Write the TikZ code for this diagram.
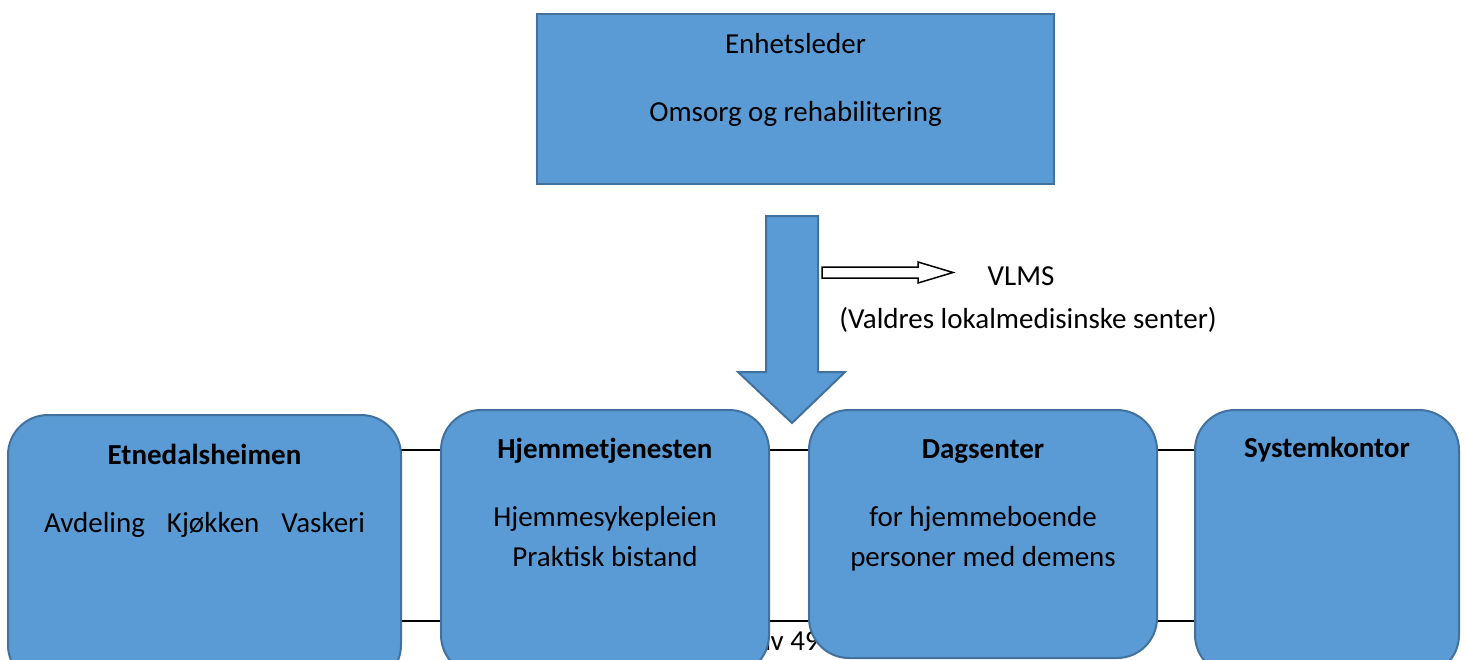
\documentclass[tikz,border=0pt]{standalone}
\usepackage{fontspec}
\setmainfont{Carlito}
\usetikzlibrary{calc,positioning}
\definecolor{boxfill}{HTML}{5B9BD5}
\definecolor{boxline}{HTML}{41719C}
\pgfdeclarelayer{background}
\pgfsetlayers{background,main}
\tikzset{
  unit/.style={draw=boxline, fill=boxfill, line width=2pt, rounded corners=40pt, inner sep=0pt},
  chief/.style={draw=boxline, fill=boxfill, line width=2pt, inner sep=0pt},
  head/.style={font=\fontsize{29}{35}\selectfont\bfseries, anchor=base, inner sep=0pt},
  sub/.style={anchor=base, inner sep=0pt},
  link/.style={line width=2pt},
}

\begin{document}
\begin{tikzpicture}[x=1pt, y=-1pt, font=\fontsize{29}{35}\selectfont]
  \useasboundingbox (0,0) rectangle (1467,659);
  % Leader box on top
  \node[chief, minimum width=517pt, minimum height=170pt] (leder) at (795.5,99) {};
  \node[sub] (ledA) at ($(leder.north)+(0,40)$) {Enhetsleder};
  \node[sub] (ledB) at ($(leder.north)+(0,108)$) {Omsorg og rehabilitering};
  % Big block arrow down
  \draw[draw=boxline, fill=boxfill, line width=2pt, line join=miter]
    (766,216) -- (818,216) -- (818,372) -- (845,372) -- (792,423)
    -- (738,372) -- (766,372) -- cycle;
  % Hollow arrow to VLMS
  \draw[line width=1.5pt, fill=white, line join=miter]
    (822,267) -- (918,267) -- (918,262) -- (953,272.5) -- (918,283)
    -- (918,278) -- (822,278) -- cycle;
  \node[sub] (vlms) at (1021,285) {VLMS};
  \node[sub] (vlmsfull) at ($(vlms.base)+(7,43)$) {(Valdres lokalmedisinske senter)};
  % Units
  \node[unit, minimum width=393pt, minimum height=270pt] (etn) at (204.5,550) {};
  \node[unit, minimum width=328pt, minimum height=265pt] (hjem) at (605,542.5) {};
  \node[unit, minimum width=348pt, minimum height=248pt] (dag) at (983,534) {};
  \node[unit, minimum width=264pt, minimum height=265pt] (sys) at (1327,542.5) {};
  % Texts in units
  \node[head] (etnT) at ($(etn.north)+(0,50)$) {Etnedalsheimen};
  \node[sub] (etnA) at ($(etn.north)+(0,118)$) {Avdeling\hspace{22pt}Kjøkken\hspace{22pt}Vaskeri};
  \node[head] (hjemT) at ($(hjem.north)+(0,49)$) {Hjemmetjenesten};
  \node[sub] (hjemA) at ($(hjem.north)+(0,117)$) {Hjemmesykepleien};
  \node[sub] (hjemB) at ($(hjem.north)+(0,157)$) {Praktisk bistand};
  \node[head] (dagT) at ($(dag.north)+(0,49)$) {Dagsenter};
  \node[sub] (dagA) at ($(dag.north)+(0,117)$) {for hjemmeboende};
  \node[sub] (dagB) at ($(dag.north)+(0,157)$) {personer med demens};
  \node[head] (sysT) at ($(sys.north)+(0,48)$) {Systemkontor};
  % Lines behind the units
  \begin{pgfonlayer}{background}
    \draw[link] (etn.center |- 0,450) -- (sys.center |- 0,450);
    \draw[link] (etn.center |- 0,621) -- (sys.center |- 0,621);
    \node[sub, anchor=base west] (page) at (757,650) {av 49};
  \end{pgfonlayer}
\end{tikzpicture}
\end{document}
